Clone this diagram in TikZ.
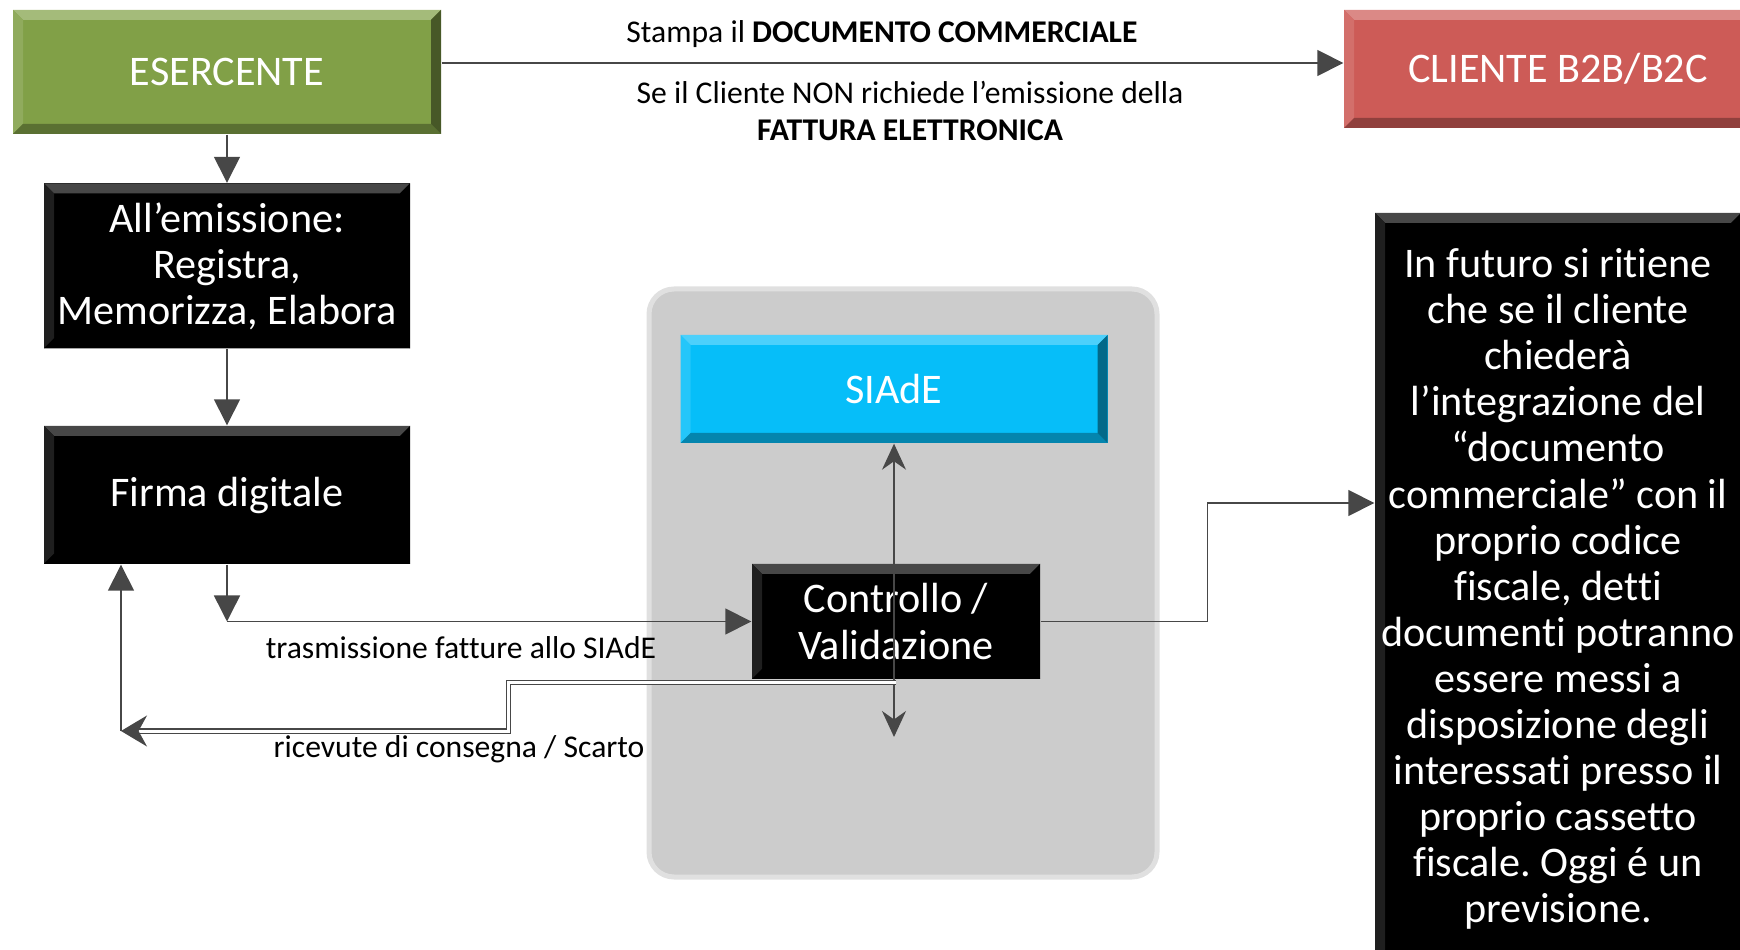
\documentclass[tikz,border=0pt]{standalone}
\usepackage{fontspec}
\setmainfont{Carlito}[Ligatures={NoCommon,NoContextual}]
\usepackage{tikz}
\usetikzlibrary{arrows.meta, positioning, calc}
\frenchspacing

\definecolor{esgreen}{HTML}{81A047}
\definecolor{clred}{HTML}{CD5B57}
\definecolor{siadecyan}{HTML}{06BEF9}
\definecolor{panelgray}{HTML}{CCCCCC}
\newcommand{\bigtxt}{\fontsize{12}{13.1}\selectfont}
\newcommand{\smalltxt}{\fontsize{9}{10.6}\selectfont}

\begin{document}
\begin{tikzpicture}[
          x=0.1mm, y=-0.1mm,
          bevel/.style={fill=#1, text=white, align=center, inner sep=0pt, font=\bigtxt,
            path picture={
              \coordinate (nw) at (path picture bounding box.north west);
              \coordinate (ne) at (path picture bounding box.north east);
              \coordinate (sw) at (path picture bounding box.south west);
              \coordinate (se) at (path picture bounding box.south east);
              \fill[#1!72!white] (nw) -- (ne) -- ([shift={(-1mm,-1mm)}]ne) -- ([shift={(1mm,-1mm)}]nw) -- cycle;
              \fill[#1!88!white] (nw) -- (sw) -- ([shift={(1mm,1mm)}]sw) -- ([shift={(1mm,-1mm)}]nw) -- cycle;
              \fill[#1!70!black] (sw) -- (se) -- ([shift={(-1mm,1mm)}]se) -- ([shift={(1mm,1mm)}]sw) -- cycle;
              \fill[#1!55!black] (ne) -- (se) -- ([shift={(-1mm,1mm)}]se) -- ([shift={(-1mm,-1mm)}]ne) -- cycle;
            }},
          panel/.style={fill=panelgray, draw=black!12, line width=0.5mm, rounded corners=2.5mm},
          lbl/.style={font=\smalltxt, align=center, inner sep=0pt},
          arr/.style={draw=black!72, line width=0.15mm, -{Triangle[length=2.6mm,width=2.6mm]}},
          twoway/.style={draw=black!72, line width=0.15mm, {Stealth[length=2.6mm,width=2.4mm]}-{Stealth[length=2.6mm,width=2.4mm]}},
          dbl/.style={draw=black!72, line width=0.12mm, double=white, double distance=0.3mm, -{Stealth[length=2.6mm,width=3.1mm]}}
        ]
        \useasboundingbox (0,0) rectangle (1740,950);

        \node [bevel=esgreen, minimum width=42.8mm, minimum height=12.4mm] (esercente) at (227,72) {ESERCENTE};
        \node [bevel=clred, minimum width=42.8mm, minimum height=11.8mm] (cliente) at (1558,69) {CLIENTE B2B/B2C};
        \node [bevel=black, minimum width=36.6mm, minimum height=16.5mm] (reg) at (227,266) {All’emissione:\\Registra,\\Memorizza, Elabora};
        \node [bevel=black, minimum width=36.6mm, minimum height=13.8mm] (firma) at (227,495) {Firma digitale};

        \node [panel, minimum width=50.8mm, minimum height=58.8mm] (panel) at (903,583) {};
        \node [bevel=siadecyan, minimum width=42.7mm, minimum height=10.8mm] (siade) at (894,389) {SIAdE};
        \node [bevel=black, minimum width=28.8mm, minimum height=11.5mm] (ctrl) at (896,621.5) {Controllo /\\Validazione};

        \node [bevel=black, minimum width=36.6mm, minimum height=75.2mm] (note) at (1558,589) {In futuro si ritiene\\che se il cliente\\chiederà\\l’integrazione del\\“documento\\commerciale” con il\\proprio codice\\fiscale, detti\\documenti potranno\\essere messi a\\disposizione degli\\interessati presso il\\proprio cassetto\\fiscale. Oggi é un\\previsione.};

        \node [lbl] (stampa) at (882,34) {Stampa il \textbf{DOCUMENTO COMMERCIALE}};
        \node [lbl] (sefattura) at (910,111) {Se il Cliente NON richiede l’emissione della\\\textbf{FATTURA ELETTRONICA}};
        \node [lbl] (trasm) at (461,648) {trasmissione fatture allo SIAdE};
        \node [lbl] (ricev) at (459,749) {ricevute di consegna / Scarto};

        \coordinate (turn) at (firma.south |- ctrl.west);
        \coordinate (back) at (121,731);
        \coordinate (ret) at ([yshift=-.3mm]ctrl.south);
        \coordinate (down) at (894,737);
        \coordinate (notein) at ([yshift=8.6mm]note.west);

        \draw [arr] ([yshift=.9mm]esercente.east) -- ([yshift=.9mm]esercente.east -| cliente.west);
        \draw [arr] (esercente.south) -- (reg.north);
        \draw [arr] (reg.south) -- (firma.north);
        \draw [arr] (firma.south) -- (turn);
        \draw [arr] (turn) -- (ctrl.west);
        \draw [twoway] (siade.south) -- (down);
        \draw [arr] (ctrl.east) -- ++(167,0) |- (notein);
        \draw [dbl] (ret) -| ($(ret)!.5!(back)$) |- (back);
        \draw [arr] (back) -- (back |- firma.south);
        \end{tikzpicture}
\end{document}
